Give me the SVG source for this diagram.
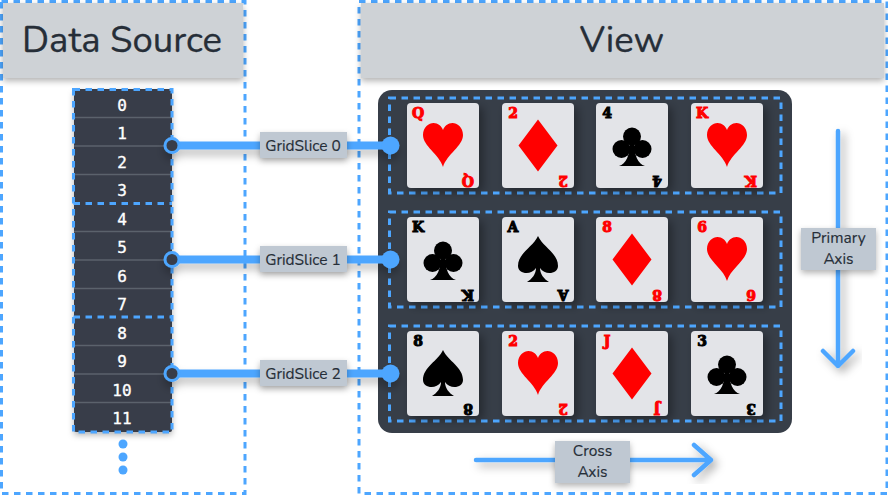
<svg xmlns="http://www.w3.org/2000/svg" xmlns:xlink="http://www.w3.org/1999/xlink" width="888" height="496" viewBox="0 0 888 496">
<style>
.ui{font-family:"Nunito","Noto Sans","Open Sans",sans-serif;fill:#262e38}
.panel{fill:#fff;stroke:#4da6ff;stroke-width:3;stroke-dasharray:6.500 5.500}
.head{fill:#ced2d6;filter:url(#sh)}
.hd{font-size:36.500px;text-anchor:middle;stroke:#262e38;stroke-width:.3}
.row{fill:#373e48}
.sep{stroke:#5b626c;stroke-width:1.500}
.num{font-family:"DejaVu Sans Mono","Liberation Mono",monospace;font-size:16px;fill:#fff;stroke:#fff;stroke-width:.35;text-anchor:middle}
.dash{fill:none;stroke:#4da6ff;stroke-width:3;stroke-dasharray:6.500 5.500}
.card{fill:#e3e4e8;filter:url(#sh2)}
.rk{font-family:"DejaVu Serif","Liberation Serif",serif;font-weight:bold;font-size:14px;text-anchor:middle;stroke-width:1}
.r{fill:#f00;stroke:#f00}
.b{fill:#000;stroke:#000}
.line{stroke:#4da6ff;stroke-width:8;fill:none}
.ax{stroke:#4da6ff;stroke-width:4.500;fill:none;stroke-linecap:round;stroke-linejoin:round}
.lab{fill:#bfc8d2;filter:url(#sh)}
.lt{font-size:15.500px;text-anchor:middle;stroke:#262e38;stroke-width:.15}
.dot{fill:#4da6ff}
</style>
<defs>
<filter id="sh" x="-30%" y="-30%" width="160%" height="170%"><feDropShadow dx="0" dy="3" stdDeviation="3" flood-color="#000" flood-opacity=".3"/></filter>
<filter id="sh2" x="-30%" y="-30%" width="160%" height="160%"><feDropShadow dx="4" dy="4" stdDeviation="5" flood-color="#000" flood-opacity=".35"/></filter>
<filter id="sh3" x="-30%" y="-100%" width="160%" height="400%"><feDropShadow dx="0" dy="6" stdDeviation="4" flood-color="#000" flood-opacity=".25"/></filter>
<path id="heart" d="M0 22C-4 9-20 1-20-10C-20-18-14-22-9.500-22C-5-22-1.500-19 0-15C1.500-19 5-22 9.500-22C14-22 20-18 20-10C20 1 4 9 0 22Z"/>
<path id="diamond" d="M0-26L19.500 0L0 26L-19.500 0Z"/>
<g id="club"><circle cx="0" cy="-9.500" r="9"/><circle cx="-10.500" cy="3" r="9"/><circle cx="10.500" cy="3" r="9"/><path d="M-2-6H2C2 10 6 18 13 20H-13C-6 18-2 10-2-6Z"/></g>
<g id="spade"><path d="M0-23C5-12 20-6 20 7C20 15 7 17 2 9C2 15 6 20 11 23H-11C-6 20-2 15-2 9C-7 17-20 15-20 7C-20-6-5-12 0-23Z"/></g>
</defs>

<rect class="panel" x="1.500" y="1.500" width="243.500" height="492"/>
<rect class="panel" x="359" y="1.500" width="528" height="492"/>
<g id="header-data-source"><rect class="head" x="3" y="3" width="240" height="75"/><text class="ui hd" x="122" y="52">Data Source</text></g>
<g id="header-view"><rect class="head" x="361" y="3" width="523" height="75"/><text class="ui hd" x="622" y="52">View</text></g>

<g id="data-list">
<rect class="row" x="74" y="89" width="98" height="343" rx="2" filter="url(#sh)"/>
<path class="sep" d="M74 117.500H172M74 146H172M74 174.500H172M74 231.500H172M74 260H172M74 288.500H172M74 345.500H172M74 374H172M74 402.500H172"/>
<text class="num" x="122" y="111">0</text><text class="num" x="122" y="139">1</text><text class="num" x="122" y="168">2</text><text class="num" x="122" y="196">3</text>
<text class="num" x="122" y="225">4</text><text class="num" x="122" y="253">5</text><text class="num" x="122" y="282">6</text><text class="num" x="122" y="310">7</text>
<text class="num" x="122" y="339">8</text><text class="num" x="122" y="367">9</text><text class="num" x="122" y="396">10</text><text class="num" x="122" y="424">11</text>
<rect class="dash" x="73.500" y="89.500" width="98.500" height="342.500"/>
<path class="dash" d="M73.500 203.500H172M73.500 317H172"/>
</g>
<g id="more-dots"><circle class="dot" cx="123" cy="444" r="4.500"/><circle class="dot" cx="123" cy="457" r="4.500"/><circle class="dot" cx="123" cy="470" r="4.500"/></g>

<g id="view-panel">
<rect x="378" y="90" width="414" height="343" rx="14" fill="#373e48"/>
<rect class="dash" x="389.500" y="98" width="391.500" height="95"/>
<rect class="dash" x="389.500" y="212" width="391.500" height="95"/>
<rect class="dash" x="389.500" y="326" width="391.500" height="95"/>
</g>

<g id="card-q-hearts"><rect class="card" x="407" y="103" width="72" height="85" rx="4"/><use xlink:href="#heart" x="443" y="145" fill="#f00"/><text class="rk r" x="418" y="118">Q</text><text class="rk r" transform="rotate(180 468 176)" x="468" y="176">Q</text></g>
<g id="card-2-diamonds"><rect class="card" x="502" y="103" width="72" height="85" rx="4"/><use xlink:href="#diamond" x="538" y="145.500" fill="#f00"/><text class="rk r" x="513" y="118">2</text><text class="rk r" transform="rotate(180 563 176)" x="563" y="176">2</text></g>
<g id="card-4-clubs"><rect class="card" x="596" y="103" width="72" height="85" rx="4"/><use xlink:href="#club" x="632" y="146" fill="#000"/><text class="rk b" x="607" y="118">4</text><text class="rk b" transform="rotate(180 657 176)" x="657" y="176">4</text></g>
<g id="card-k-hearts"><rect class="card" x="691" y="103" width="72" height="85" rx="4"/><use xlink:href="#heart" x="727" y="145" fill="#f00"/><text class="rk r" x="702" y="118">K</text><text class="rk r" transform="rotate(180 751 176)" x="751" y="176">K</text></g>

<g id="card-k-clubs"><rect class="card" x="407" y="217" width="72" height="85" rx="4"/><use xlink:href="#club" x="443" y="260" fill="#000"/><text class="rk b" x="418" y="232">K</text><text class="rk b" transform="rotate(180 468 290)" x="468" y="290">K</text></g>
<g id="card-a-spades"><rect class="card" x="502" y="217" width="72" height="85" rx="4"/><use xlink:href="#spade" x="538" y="259" fill="#000"/><text class="rk b" x="513" y="232">A</text><text class="rk b" transform="rotate(180 563 290)" x="563" y="290">A</text></g>
<g id="card-8-diamonds"><rect class="card" x="596" y="217" width="72" height="85" rx="4"/><use xlink:href="#diamond" x="632" y="259.500" fill="#f00"/><text class="rk r" x="607" y="232">8</text><text class="rk r" transform="rotate(180 657 290)" x="657" y="290">8</text></g>
<g id="card-6-hearts"><rect class="card" x="691" y="217" width="72" height="85" rx="4"/><use xlink:href="#heart" x="727" y="259" fill="#f00"/><text class="rk r" x="702" y="232">6</text><text class="rk r" transform="rotate(180 751 290)" x="751" y="290">6</text></g>

<g id="card-8-spades"><rect class="card" x="407" y="331" width="72" height="85" rx="4"/><use xlink:href="#spade" x="443" y="373" fill="#000"/><text class="rk b" x="418" y="346">8</text><text class="rk b" transform="rotate(180 468 404)" x="468" y="404">8</text></g>
<g id="card-2-hearts"><rect class="card" x="502" y="331" width="72" height="85" rx="4"/><use xlink:href="#heart" x="538" y="373" fill="#f00"/><text class="rk r" x="513" y="346">2</text><text class="rk r" transform="rotate(180 563 404)" x="563" y="404">2</text></g>
<g id="card-j-diamonds"><rect class="card" x="596" y="331" width="72" height="85" rx="4"/><use xlink:href="#diamond" x="632" y="373.500" fill="#f00"/><text class="rk r" x="607" y="346">J</text><text class="rk r" transform="rotate(180 657 404)" x="657" y="404">J</text></g>
<g id="card-3-clubs"><rect class="card" x="691" y="331" width="72" height="85" rx="4"/><use xlink:href="#club" x="727" y="374" fill="#000"/><text class="rk b" x="702" y="346">3</text><text class="rk b" transform="rotate(180 751 404)" x="751" y="404">3</text></g>

<g id="connectors">
<g filter="url(#sh3)"><path class="line" d="M172 145.500H390"/><circle class="dot" cx="390.500" cy="145.500" r="9"/><circle cx="172" cy="145.500" r="7" fill="#373e48" stroke="#4da6ff" stroke-width="3"/></g>
<g filter="url(#sh3)"><path class="line" d="M172 259.500H390"/><circle class="dot" cx="390.500" cy="259.500" r="9"/><circle cx="172" cy="259.500" r="7" fill="#373e48" stroke="#4da6ff" stroke-width="3"/></g>
<g filter="url(#sh3)"><path class="line" d="M172 373.500H390"/><circle class="dot" cx="390.500" cy="373.500" r="9"/><circle cx="172" cy="373.500" r="7" fill="#373e48" stroke="#4da6ff" stroke-width="3"/></g>
<path class="ax" d="M838 131V366M823 351L838 366L853 351" filter="url(#sh2)"/>
<path class="ax" d="M476 460H711M694 445L711 460L694 475" filter="url(#sh2)"/>
</g>

<g id="label-slice-0"><rect class="lab" x="260" y="132" width="87" height="26"/><text class="ui lt" x="303" y="150.500">GridSlice 0</text></g>
<g id="label-slice-1"><rect class="lab" x="260" y="246" width="87" height="26"/><text class="ui lt" x="303" y="264.500">GridSlice 1</text></g>
<g id="label-slice-2"><rect class="lab" x="260" y="360" width="87" height="26"/><text class="ui lt" x="303" y="378.500">GridSlice 2</text></g>
<g id="label-primary"><rect class="lab" x="801" y="228" width="75" height="42"/><text class="ui lt" x="838.500" y="243">Primary</text><text class="ui lt" x="838.500" y="264">Axis</text></g>
<g id="label-cross"><rect class="lab" x="555" y="441" width="75" height="42"/><text class="ui lt" x="592.500" y="456">Cross</text><text class="ui lt" x="592.500" y="477">Axis</text></g>
</svg>
